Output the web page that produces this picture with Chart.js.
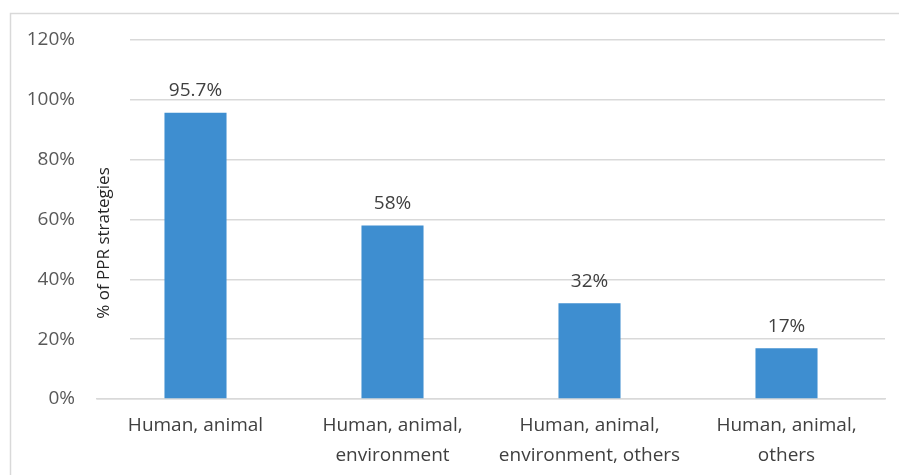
<!DOCTYPE html>
<html>
<head>
<meta charset="utf-8">
<script src="https://cdn.jsdelivr.net/npm/chart.js@4"></script>
<style>
html,body{margin:0;padding:0;background:#fff;}
#wrap{position:relative;width:899px;height:475px;}
</style>
</head>
<body>
<div id="wrap"><canvas id="c" width="899" height="475"></canvas></div>
<script>
const categories = [["Human, animal"], ["Human, animal,", "environment"], ["Human, animal,", "environment, others"], ["Human, animal,", "others"]];
const values = [95.7, 58, 32, 17];
const valueLabels = ["95.7%", "58%", "32%", "17%"];
const yTickMax = 120;
const yTickStep = 20;
const yTitle = "% of PPR strategies";

const FONT = "'Open Sans', 'Noto Sans', sans-serif";

const framePlugin = {
  id: 'frame',
  beforeDraw(chart) {
    const ctx = chart.ctx;
    ctx.save();
    ctx.fillStyle = '#fff';
    ctx.fillRect(0, 0, chart.width, chart.height);
    ctx.strokeStyle = '#d9d9d9';
    ctx.lineWidth = 1.5;
    ctx.beginPath();
    ctx.moveTo(10.5, chart.height + 5);
    ctx.lineTo(10.5, 13.5);
    ctx.lineTo(chart.width + 5, 13.5);
    ctx.stroke();
    ctx.restore();
  },
  beforeDatasetsDraw(chart) {
    const ctx = chart.ctx;
    const a = chart.chartArea;
    const y = chart.scales.y;
    ctx.save();
    ctx.fillStyle = '#fff';
    ctx.fillRect(a.left - 1, a.top - 3, 34, y.getPixelForValue(0) - a.top - 2);
    ctx.translate(104, 243);
    ctx.rotate(-Math.PI / 2);
    ctx.fillStyle = '#262626';
    ctx.font = "17px " + FONT;
    ctx.textAlign = 'center';
    ctx.textBaseline = 'middle';
    ctx.fillText(yTitle, 0, 0);
    ctx.restore();
  },
  afterDatasetsDraw(chart) {
    const ctx = chart.ctx;
    const meta = chart.getDatasetMeta(0);
    ctx.save();
    ctx.fillStyle = '#404040';
    ctx.font = "19px " + FONT;
    ctx.textAlign = 'center';
    ctx.textBaseline = 'middle';
    meta.data.forEach((bar, i) => {
      ctx.fillText(valueLabels[i], bar.x, bar.y - 22);
    });
    ctx.restore();
  }
};

new Chart(document.getElementById('c'), {
  type: 'bar',
  data: {
    labels: categories,
    datasets: [{
      data: values,
      backgroundColor: '#3e8ed0',
      borderWidth: 0,
      categoryPercentage: 1.0,
      barPercentage: 0.315
    }]
  },
  options: {
    responsive: false,
    animation: false,
    devicePixelRatio: 1,
    layout: { padding: { left: 0, right: 14, top: 40, bottom: 0 } },
    plugins: { legend: { display: false }, tooltip: { enabled: false } },
    scales: {
      y: {
        min: 0, max: yTickMax,
        ticks: {
          stepSize: yTickStep,
          color: '#595959',
          font: { size: 19, family: FONT },
          padding: 22,
          callback: v => v + '%'
        },
        grid: { color: '#d9d9d9', lineWidth: 1.5, drawTicks: false },
        border: { display: false },
        afterFit(s) { s.width = 97; }
      },
      x: {
        ticks: {
          color: '#404040',
          font: { size: 19, family: FONT, lineHeight: 1.58 },
          padding: 12,
          maxRotation: 0,
          autoSkip: false
        },
        grid: { display: false, drawTicks: false },
        border: { display: true, color: '#d9d9d9', width: 1.5 },
        afterFit(s) { s.height = 76; }
      }
    }
  },
  plugins: [framePlugin]
});
</script>
</body>
</html>
